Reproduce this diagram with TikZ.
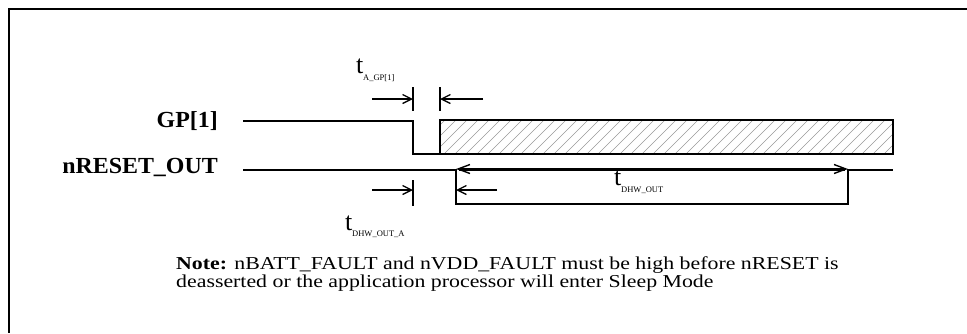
\documentclass[tikz,border=0pt]{standalone}
\usepackage{fontspec}
\setmainfont{Liberation Serif}
\newfontfamily\notefont[FakeStretch=1.2]{Liberation Serif}
\newfontfamily\lblfont[FakeStretch=1.04]{Liberation Serif}
\usetikzlibrary{arrows.meta}
\tikzset{
  sig/.style={line width=1.2pt, line join=miter},
  lbl/.style={font=\lblfont\fontsize{23}{25}\selectfont\bfseries, inner sep=0pt, anchor=base east},
  tlbl/.style={font=\fontsize{26}{28}\selectfont, inner sep=0pt, anchor=base west},
  sublbl/.style={font=\fontsize{8.5}{9}\selectfont, inner sep=0pt, anchor=base west},
  notelbl/.style={font=\notefont\fontsize{18.2}{16.5}\selectfont, inner sep=0pt, anchor=base west, align=left},
  marr/.style={line width=2pt, -{Straight Barb[length=9pt,width=9pt,line width=1.3pt]}},
  bigarr/.style={line width=3pt, {Straight Barb[length=12pt,width=9pt,line width=1.4pt]}-{Straight Barb[length=12pt,width=9pt,line width=1.4pt]}},
  tick/.style={line width=1.2pt},
  hatch/.style={gray!80, line width=0.6pt}
}
\begin{document}
\begin{tikzpicture}[x=1pt,y=-1pt]
\useasboundingbox (0,0) rectangle (967,333);
% frame
\draw[line width=2.2pt] (967,9) -- (9,9) -- (9,333);
% labels
\node[lbl] (gp) at (218,127) {GP[1]};
\node[lbl] (nr) at (218,173) {nRESET\_OUT};
% GP[1] waveform
\draw[sig] (243,121) -- (413,121) -- (413,154) -- (440,154);
\begin{scope}
  \clip (440,120) rectangle (893,154);
  \foreach \x in {400,411,...,900} \draw[hatch] (\x,154) -- ++(34,-34);
\end{scope}
\draw[sig] (440,120) rectangle (893,154);
% nRESET_OUT waveform
\draw[sig] (243,170) -- (456,170) -- (456,204) -- (848,204) -- (848,170) -- (893,170);
% t_A_GP[1]
\draw[tick] (413,87) -- (413,111);
\draw[tick] (440,87) -- (440,111);
\draw[marr] (372,99) -- (413,99);
\draw[marr] (483,99) -- (440,99);
\node[tlbl] (t1) at (356,73) {t};
\node[sublbl] (s1) at (363,80) {A\_GP[1]};
% t_DHW_OUT
\draw[bigarr] (456,169) -- (848,169);
\node[tlbl] (t2) at (614,185) {t};
\node[sublbl] (s2) at (621,192) {DHW\_OUT};
% t_DHW_OUT_A
\draw[tick] (413,180) -- (413,206);
\draw[marr] (372,190) -- (413,190);
\draw[marr] (497,190) -- (456,190);
\node[tlbl] (t3) at (345,230) {t};
\node[sublbl] (s3) at (352,236) {DHW\_OUT\_A};
% note
\node[notelbl, anchor=north west] (note) at (176,256.5) {\textbf{Note:} nBATT\_FAULT and nVDD\_FAULT must be high before nRESET is\\deasserted or the application processor will enter Sleep Mode};
\end{tikzpicture}
\end{document}
